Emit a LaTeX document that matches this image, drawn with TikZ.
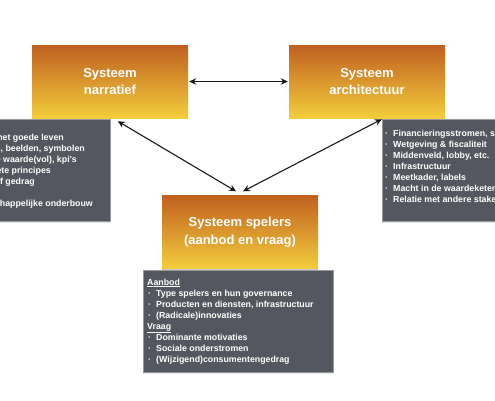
\documentclass[tikz,border=0pt]{standalone}
\usepackage{fontspec}
\setmainfont{Liberation Sans}
\usetikzlibrary{arrows.meta,shadows,calc}
\definecolor{otop}{RGB}{192,96,32}
\definecolor{obot}{RGB}{243,205,60}
\definecolor{gfill}{RGB}{84,87,95}
\definecolor{gedge}{RGB}{150,152,158}
\newcommand\bulmark{\makebox[9pt][l]{\hspace{1pt}·}}
\begin{document}
\begin{tikzpicture}[x=1pt,y=-1pt,
  obox/.style={shade, top color=otop, bottom color=obot, minimum width=156pt, minimum height=73pt,
    inner sep=0pt, align=center, text=white, font=\bfseries\fontsize{13}{17.5}\selectfont,
    drop shadow={shadow xshift=0pt, shadow yshift=-1.2pt, opacity=0.35, fill=black!60}},
  gbox/.style={fill=gfill, draw=gedge, line width=0.5pt, minimum width=190pt, minimum height=102pt, inner sep=0pt,
    drop shadow={shadow xshift=0pt, shadow yshift=-1.5pt, opacity=0.2, fill=black!50}},
  gtext/.style={text=white, inner sep=0pt, font=\bfseries\fontsize{8.8}{11}\selectfont},
  arr/.style={{Stealth[length=7pt,width=6.5pt]}-{Stealth[length=7pt,width=6.5pt]}, line width=1.1pt, black!90}]
\useasboundingbox (0,0) rectangle (495,400);
\fill[white] (0,0) rectangle (495,400);
\begin{scope}
\clip (0,0) rectangle (495,400);
% gray boxes
\node[gbox, anchor=north east] (lbox) at (110,119) {};
\node[gbox, anchor=north west] (rbox) at (382,119) {};
\node[gbox, anchor=north west] (bbox) at (143,270) {};
% orange boxes
\node[obox] (narr) at (110,81.5) {Systeem\\narratief};
\node[obox] (arch) at (367,81.5) {Systeem\\architectuur};
\node[obox] (spel) at (240,232) {Systeem spelers\\(aanbod en vraag)};
% left box text (cut off at the left edge)
\node[gtext, anchor=base east] (l1) at (64,140.5) {\bulmark Visie op het goede leven};
\node[gtext, anchor=base east] (l2) at (85,151.5) {\bulmark Verhalen, beelden, symbolen};
\node[gtext, anchor=base west] (l3) at (3,162.5) {\llap{\bulmark Definitie }waarde(vol), kpi's};
\node[gtext, anchor=base east] (l4) at (51,173.5) {\bulmark Expliciete principes};
\node[gtext, anchor=base east] (l5) at (35,184.5) {\bulmark Normatief gedrag};
\node[gtext, anchor=base east] (l7) at (93,206.5) {\bulmark Wetenschappelijke onderbouw};
% right box text
\node[gtext, anchor=base west] (r1) at (384,136) {\bulmark Financieringsstromen, subsidies};
\node[gtext, anchor=base west] (r2) at (384,147) {\bulmark Wetgeving \& fiscaliteit};
\node[gtext, anchor=base west] (r3) at (384,158) {\bulmark Middenveld, lobby, etc.};
\node[gtext, anchor=base west] (r4) at (384,169) {\bulmark Infrastructuur};
\node[gtext, anchor=base west] (r5) at (384,180) {\bulmark Meetkader, labels};
\node[gtext, anchor=base west] (r6) at (384,191) {\bulmark Macht in de waardeketen};
\node[gtext, anchor=base west] (r7) at (384,202) {\bulmark Relatie met andere stakeholders};
% bottom box text
\node[gtext, anchor=base west] (b1) at (147,285) {\underline{Aanbod}};
\node[gtext, anchor=base west] (b2) at (147,296) {\bulmark Type spelers en hun governance};
\node[gtext, anchor=base west] (b3) at (147,307) {\bulmark Producten en diensten, infrastructuur};
\node[gtext, anchor=base west] (b4) at (147,318) {\bulmark (Radicale)innovaties};
\node[gtext, anchor=base west] (b5) at (147,329) {\underline{Vraag}};
\node[gtext, anchor=base west] (b6) at (147,340) {\bulmark Dominante motivaties};
\node[gtext, anchor=base west] (b7) at (147,351) {\bulmark Sociale onderstromen};
\node[gtext, anchor=base west] (b8) at (147,362) {\bulmark (Wijzigend)consumentengedrag};
% connectors
\coordinate (nL) at ($(narr.south west)+(86,3)$);
\coordinate (sL) at ($(spel.north)+(-4,-4)$);
\coordinate (sR) at ($(spel.north)+(3,-4)$);
\coordinate (nR) at ($(arch.south west)+(93,1)$);
\draw[arr] ([xshift=1pt]narr.east) -- ([xshift=-1pt]arch.west);
\draw[arr] (nL) -- (sL);
\draw[arr] (nR) -- (sR);
\end{scope}
\end{tikzpicture}
\end{document}
